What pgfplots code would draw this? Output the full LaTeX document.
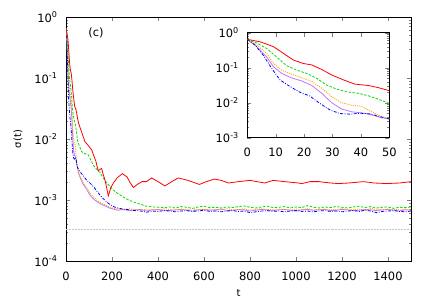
\documentclass[border=0pt]{standalone}
\usepackage{fontspec}
\setmainfont{DejaVu Sans}
\usepackage{pgfplots}
\usepackage{pgfplotstable}
\pgfplotsset{compat=1.18}
\definecolor{cgreen}{RGB}{0,220,0}
\definecolor{corange}{RGB}{255,165,0}
\definecolor{cviolet}{RGB}{190,120,255}

\pgfplotstableread{
t s
0 0.646
4.5 0.55
9.2 0.40
12.7 0.257
16.2 0.166
19.7 0.132
22.7 0.120
26.2 0.089
29.7 0.062
33.8 0.045
37.9 0.034
42.6 0.031
46.1 0.027
50 0.022
55 0.018
68 0.013
82 0.0091
97 0.0078
112 0.0066
122 0.0052
130 0.0043
140 0.0030
148 0.0032
155 0.0033
162 0.0026
170 0.0021
184 0.00117
195 0.0016
206 0.0019
222 0.0023
245 0.0027
265 0.0024
280 0.0019
293 0.0016
310 0.0018
330 0.0020
350 0.0020
372 0.0023
400 0.0020
430 0.0017
460 0.0020
488 0.0023
530 0.0021
580 0.0018
610 0.0020
645 0.0022
675 0.0021
706 0.0019
750 0.0020
800 0.0021
830 0.0020
865 0.0019
900 0.0021
950 0.0020
1010 0.0019
1025 0.00186
1061 0.0020
1100 0.0020
1150 0.0019
1184 0.00186
1230 0.0019
1293 0.0020
1340 0.0019
1394 0.00186
1450 0.0019
1500 0.0020
}\tabred

\pgfplotstableread{
t s
0 0.646
3.3 0.51
6.8 0.355
10.3 0.204
13.8 0.115
17.4 0.085
20.9 0.069
24.4 0.050
27.9 0.032
31.5 0.0245
35 0.0204
39.1 0.0186
42.6 0.0158
46.1 0.0126
50 0.0095
54 0.0085
61 0.0072
68 0.0062
80 0.0058
97 0.0055
108 0.0045
119 0.0037
133 0.0032
148 0.0028
162 0.0023
177 0.0019
190 0.0017
206 0.00145
225 0.00128
249 0.00112
270 0.00101
293 0.00093
320 0.00086
351 0.00079
380 0.00077
409 0.00076
425 7.5e-4
450 7.7e-4
475 7.4e-4
500 7.8e-4
525 7.6e-4
550 7.3e-4
575 7.7e-4
600 7.9e-4
625 7.5e-4
650 7.6e-4
675 7.4e-4
700 7.7e-4
725 7.5e-4
750 7.8e-4
775 8.0e-4
800 7.6e-4
825 7.4e-4
850 7.7e-4
875 7.9e-4
900 7.5e-4
925 7.6e-4
950 7.8e-4
975 7.4e-4
1000 7.7e-4
1025 7.5e-4
1050 8.1e-4
1075 7.6e-4
1100 7.4e-4
1125 7.7e-4
1150 7.5e-4
1175 7.8e-4
1200 7.6e-4
1225 7.4e-4
1250 7.7e-4
1275 7.9e-4
1300 7.5e-4
1325 7.8e-4
1350 7.4e-4
1375 7.6e-4
1400 7.7e-4
1425 7.3e-4
1450 7.6e-4
1475 7.5e-4
1500 7.7e-4
}\tabgreen

\pgfplotstableread{
t s
0 0.646
3.3 0.447
6.8 0.257
9.2 0.132
12.1 0.085
15.6 0.065
19.1 0.052
22.7 0.040
26.2 0.026
29.7 0.0148
33.2 0.0100
36.7 0.0085
40.3 0.0078
43.8 0.0055
47.3 0.0040
50 0.0034
54 0.0029
64 0.0023
75 0.0019
90 0.0016
104 0.0013
118 0.00115
133 0.00100
150 0.00090
170 0.00083
188 0.00077
206 0.00073
225 7.1e-4
250 6.9e-4
275 7.2e-4
300 7.0e-4
325 6.8e-4
350 7.1e-4
375 7.0e-4
400 6.9e-4
425 7.2e-4
450 7.0e-4
475 6.8e-4
500 7.1e-4
525 7.0e-4
550 7.2e-4
575 6.9e-4
600 7.0e-4
625 7.1e-4
650 6.8e-4
675 7.0e-4
700 7.2e-4
725 6.9e-4
750 7.0e-4
775 7.1e-4
800 6.8e-4
825 7.0e-4
850 7.2e-4
875 7.0e-4
900 6.9e-4
925 7.1e-4
950 7.0e-4
975 6.8e-4
1000 7.1e-4
1025 7.0e-4
1050 7.2e-4
1075 6.9e-4
1100 7.0e-4
1125 7.1e-4
1150 6.9e-4
1175 7.0e-4
1200 7.2e-4
1225 6.9e-4
1250 7.0e-4
1275 7.1e-4
1300 6.8e-4
1325 7.3e-4
1350 7.0e-4
1375 6.9e-4
1400 7.1e-4
1425 7.0e-4
1450 6.9e-4
1475 7.1e-4
1500 7.0e-4
}\taborange

\pgfplotstableread{
t s
0 0.646
3.3 0.40
6.8 0.204
9.2 0.107
12.1 0.069
15.6 0.051
19.1 0.042
22.7 0.031
26.2 0.0186
29.7 0.0100
33.2 0.0066
36.7 0.0055
40.3 0.0051
43.8 0.0045
47.3 0.0037
50 0.0035
54 0.0028
64 0.0022
75 0.0018
90 0.0015
104 0.0012
118 0.00105
133 0.00095
150 0.00086
170 0.00080
188 0.00074
206 0.00071
225 6.8e-4
250 7.0e-4
275 6.7e-4
300 6.9e-4
325 7.0e-4
350 6.6e-4
375 6.9e-4
400 7.0e-4
425 6.8e-4
450 6.7e-4
475 6.9e-4
500 7.0e-4
525 6.8e-4
550 6.6e-4
575 6.9e-4
600 7.0e-4
625 6.8e-4
650 6.9e-4
675 7.1e-4
700 6.7e-4
725 6.8e-4
750 7.0e-4
775 6.9e-4
800 6.6e-4
825 6.8e-4
850 7.0e-4
875 6.9e-4
900 6.7e-4
925 6.9e-4
950 7.0e-4
975 6.8e-4
1000 6.6e-4
1025 6.9e-4
1050 7.0e-4
1075 6.8e-4
1100 6.9e-4
1125 7.0e-4
1150 6.7e-4
1175 6.8e-4
1200 7.0e-4
1225 6.9e-4
1250 6.7e-4
1275 6.8e-4
1300 7.0e-4
1325 6.9e-4
1350 6.7e-4
1375 6.9e-4
1400 7.0e-4
1425 6.8e-4
1450 6.6e-4
1475 6.9e-4
1500 6.8e-4
}\tabviolet

\pgfplotstableread{
t s
0 0.646
2.7 0.447
5.6 0.229
8.6 0.095
11.5 0.045
15 0.029
18.5 0.020
22 0.0155
25.6 0.0095
29.1 0.0062
32.6 0.0049
36.2 0.0047
39.7 0.0050
43.2 0.0048
46.7 0.0040
50 0.0034
61 0.0029
75 0.0025
90 0.0021
104 0.0019
119 0.00166
133 0.00142
148 0.00120
162 0.00105
177 0.00093
190 0.00085
206 0.00078
225 0.00074
249 0.00071
275 6.9e-4
300 6.7e-4
325 6.6e-4
350 6.3e-4
375 6.6e-4
400 6.5e-4
425 6.7e-4
450 6.6e-4
475 6.4e-4
500 6.6e-4
525 6.7e-4
550 6.5e-4
575 6.6e-4
600 6.8e-4
625 6.5e-4
650 6.6e-4
675 6.4e-4
700 6.6e-4
725 6.7e-4
750 6.5e-4
775 6.6e-4
800 6.2e-4
825 6.4e-4
850 6.6e-4
875 6.7e-4
900 6.5e-4
925 6.6e-4
950 6.4e-4
975 6.6e-4
1000 6.7e-4
1025 6.5e-4
1050 6.6e-4
1075 6.4e-4
1100 6.6e-4
1125 6.7e-4
1150 6.5e-4
1175 6.6e-4
1200 6.4e-4
1225 6.6e-4
1250 6.7e-4
1275 6.5e-4
1300 6.8e-4
1325 6.6e-4
1350 6.2e-4
1375 6.5e-4
1400 6.6e-4
1425 6.7e-4
1450 6.5e-4
1475 6.4e-4
1500 6.6e-4
}\tabblue

\pgfplotsset{
  gpstyle/.style={
    scale only axis,
    /pgf/number format/assume math mode=true,
    /pgf/number format/1000 sep={},
    tick label style={font=\fontsize{11.5}{13}\selectfont},
    label style={font=\fontsize{11.5}{13}\selectfont},
    xticklabel style={yshift=-7bp},
    yticklabel style={xshift=-5bp},
    tick align=inside,
    tick pos=both,
    major tick length=4pt,
    minor tick length=2pt,
    axis line style={line width=0.8pt},
  },
  cred/.style={red, line width=0.8pt},
  cgr/.style={cgreen, line width=0.8pt, dash pattern=on 2.5pt off 1.5pt},
  cor/.style={corange, line width=0.9pt, dash pattern=on 1pt off 1.2pt},
  cvi/.style={cviolet, line width=0.8pt},
  cbl/.style={blue, line width=0.8pt, dash pattern=on 3pt off 1.5pt on 0.8pt off 1.5pt},
}

\begin{document}
\begin{tikzpicture}
\useasboundingbox (-66bp,-44bp) rectangle (370bp,261bp);
\begin{axis}[gpstyle, ymode=log,
  at={(0,0)}, anchor=south west,
  width=345bp, height=244bp,
  xmin=0, xmax=1500, ymin=1e-4, ymax=1,
  xtick={0,200,400,600,800,1000,1200,1400},
  ytick={1e-4,1e-3,1e-2,1e-1,1},
  yticklabels={10\textsuperscript{-4},10\textsuperscript{-3},10\textsuperscript{-2},10\textsuperscript{-1},10\textsuperscript{0}},
  xlabel={t}, ylabel={σ(t)},
  every axis x label/.style={at={(axis description cs:0.5,-0.131)}, anchor=center},
  every axis y label/.style={at={(axis description cs:-0.139,0.5)}, rotate=90, anchor=center},
]
\addplot[gray!45, line width=0.4pt, dash pattern=on 0.3pt off 1.2pt] coordinates {(0,3.3e-4) (1500,3.3e-4)};
\addplot[cvi] table[x=t,y=s] {\tabviolet};
\addplot[cor] table[x=t,y=s] {\taborange};
\addplot[cbl] table[x=t,y=s] {\tabblue};
\addplot[cgr] table[x=t,y=s] {\tabgreen};
\addplot[cred] table[x=t,y=s] {\tabred};
\node[font=\fontsize{11.5}{13}\selectfont] at (rel axis cs:0.087,0.934) {(c)};
\end{axis}
\begin{axis}[gpstyle, ymode=log,
  at={(181.3bp,123.3bp)}, anchor=south west,
  width=142bp, height=105bp,
  xmin=0, xmax=50, ymin=1e-3, ymax=1,
  xtick={0,10,20,30,40,50},
  ytick={1e-3,1e-2,1e-1,1},
  yticklabels={10\textsuperscript{-3},10\textsuperscript{-2},10\textsuperscript{-1},10\textsuperscript{0}},
  axis background/.style={fill=white},
]
\addplot[cvi] table[x=t,y=s] {\tabviolet};
\addplot[cor] table[x=t,y=s] {\taborange};
\addplot[cbl] table[x=t,y=s] {\tabblue};
\addplot[cgr] table[x=t,y=s] {\tabgreen};
\addplot[cred] table[x=t,y=s] {\tabred};
\end{axis}
\end{tikzpicture}
\end{document}
